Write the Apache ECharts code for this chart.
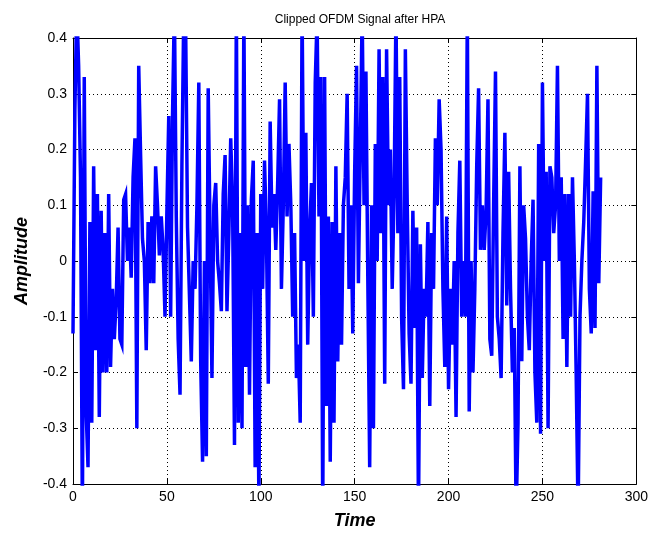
<!DOCTYPE html>
<html>
<head>
<meta charset="utf-8">
<script src="https://cdn.jsdelivr.net/npm/echarts@6/dist/echarts.min.js"></script>
<style>
html,body{margin:0;padding:0;background:#fff;}
#chart{width:651px;height:535px;}
</style>
</head>
<body>
<div id="chart"></div>
<script>
const chartTitle = "Clipped OFDM Signal after HPA";
const xLabel = "Time";
const yLabel = "Amplitude";
const xTicks = [0, 50, 100, 150, 200, 250, 300];
const yTicks = [-0.4, -0.3, -0.2, -0.1, 0, 0.1, 0.2, 0.3, 0.4];
// values beyond +/-0.4 run off the plotted box and are clipped there
const amplitude = [
-0.13, 0.27, 0.46, 0.35, 0.15, -0.46, 0.33, -0.27, -0.37, 0.07, -0.29, 0.17, -0.16, 0.12, -0.28, 0.09, -0.2, 0.05, -0.2, 0.12, -0.19, -0.05, -0.14,
-0.07, 0.06, -0.14, -0.15, 0.11, 0.12, 0.0, 0.06, -0.03, 0.15, 0.22, -0.30, 0.35, 0.19, 0.04, 0.0, -0.16, 0.07, -0.04, 0.08, -0.04, 0.17, 0.1, 0.01, 0.08,
0.02, -0.1, 0.09, 0.26, -0.1, 0.26, 0.46, 0.08, -0.14, -0.24, 0.17, 0.45, 0.42, 0.06, -0.06, -0.18, 0.0, -0.05, 0.1, 0.32, -0.18, -0.36, 0.0, -0.35, 0.31, 0.05,
-0.21, 0.1, 0.14, 0.0, -0.04, -0.09, 0.12, 0.19, -0.09, 0.05, 0.22, 0.1, -0.33, 0.46, -0.29, 0.05, -0.3, 0.46, -0.19, 0.1, -0.24, 0.11, 0.18, -0.37, 0.05, -0.44,
0.12, -0.05, 0.18, 0.05, -0.22, 0.25, 0.06, 0.12, 0.02, 0.14, 0.29, -0.05, 0.1, 0.32, 0.08, 0.21, 0.1, -0.1, 0.05, -0.21, -0.15, -0.29, 0.46, 0.0, 0.23, -0.15,
0.05, 0.14, -0.1, 0.32, 0.44, 0.08, 0.33, -0.46, 0.33, -0.26, 0.08, -0.36, 0.07, -0.29, 0.17, -0.18, 0.05, -0.15, 0.1, 0.15, 0.3, -0.05, 0.1, -0.13, 0.16,
0.35, -0.04, 0.2, 0.45, 0.1, 0.34, -0.03, -0.37, 0.1, -0.3, 0.21, 0.0, 0.38, 0.05, 0.33, -0.22, 0.38, 0.1, 0.2, -0.05, 0.12, 0.45, 0.05, 0.33, -0.1, -0.23,
0.38, 0.1, -0.13, -0.22, 0.09, -0.12, 0.06, -0.46, 0.03, -0.21, -0.05, -0.1, 0.07, -0.26, 0.05, -0.05, 0.22, 0.1, 0.29, 0.2, -0.05, -0.19, 0.08, -0.23,
-0.05, -0.15, 0.0, -0.28, 0.05, 0.18, -0.1, 0.0, -0.1, 0.45, -0.27, 0.0, -0.2, -0.05, 0.17, 0.31, 0.02, 0.1, 0.02, 0.09, 0.29, -0.14, -0.17, 0.1, 0.34,
-0.1, -0.14, -0.21, 0.05, 0.23, -0.08, 0.16, -0.05, -0.2, -0.12, -0.46, -0.29, 0.17, -0.18, 0.1, 0.04, -0.1, -0.16, 0.0, 0.11, -0.2, -0.29, 0.21, -0.31, 0.32, 0.0, 0.16,
-0.3, 0.17, 0.15, 0.05, 0.1, 0.35, 0.0, 0.15, -0.14, 0.12, -0.19, 0.12, -0.1, 0.15, 0.0, -0.21, -0.46, -0.1, 0.0, 0.07, 0.18, 0.3, -0.05, -0.13, 0.125, -0.12, 0.35, -0.04, 0.15
];
const seriesData = amplitude.map((v, i) => [i, v]);

const font = "'Liberation Sans', Arial, sans-serif";
const tickFmt = v => String(+(+v).toFixed(1));
const gridLine = {show: true, lineStyle: {color: '#000', width: 1, type: [1, 3]}};
const axisLine = {show: true, onZero: false, lineStyle: {color: '#000', width: 1}};
const tick = {show: true, inside: true, length: 5, lineStyle: {color: '#000'}};

const chart = echarts.init(document.getElementById('chart'), null, {renderer: 'canvas'});
chart.setOption({
  animation: false,
  backgroundColor: '#fff',
  title: {
    text: chartTitle, left: 355, top: 9, textAlign: 'center',
    textStyle: {fontFamily: font, fontSize: 12, fontWeight: 'normal', color: '#000'}
  },
  grid: {left: 73, right: 14, top: 38, bottom: 47, containLabel: false},
  xAxis: [{
    type: 'value', position: 'bottom', min: xTicks[0], max: xTicks[xTicks.length - 1], interval: 50,
    name: xLabel, nameLocation: 'middle', nameGap: 28,
    nameTextStyle: {fontFamily: font, fontSize: 18, fontWeight: 'bold', fontStyle: 'italic', color: '#000'},
    axisLine: axisLine, axisTick: tick,
    axisLabel: {fontFamily: font, fontSize: 14, color: '#000', margin: 6, formatter: tickFmt},
    splitLine: gridLine
  }, {
    type: 'value', position: 'top', min: xTicks[0], max: xTicks[xTicks.length - 1], interval: 50,
    axisLine: axisLine, axisTick: tick,
    axisLabel: {show: false}, splitLine: {show: false}
  }],
  yAxis: [{
    type: 'value', position: 'left', min: yTicks[0], max: yTicks[yTicks.length - 1], interval: 0.1,
    name: yLabel, nameLocation: 'middle', nameGap: 42, nameRotate: 90,
    nameTextStyle: {fontFamily: font, fontSize: 18, fontWeight: 'bold', fontStyle: 'italic', color: '#000'},
    axisLine: axisLine, axisTick: tick,
    axisLabel: {fontFamily: font, fontSize: 14, color: '#000', margin: 6, formatter: tickFmt},
    splitLine: gridLine
  }, {
    type: 'value', position: 'right', min: yTicks[0], max: yTicks[yTicks.length - 1], interval: 0.1,
    axisLine: axisLine, axisTick: tick,
    axisLabel: {show: false}, splitLine: {show: false}
  }],
  series: [{
    type: 'line', xAxisIndex: 0, yAxisIndex: 0, data: seriesData,
    showSymbol: false, clip: true,
    lineStyle: {color: '#0000FF', width: 3.5, join: 'miter'},
    itemStyle: {color: '#0000FF'}
  }]
});
</script>
</body>
</html>
